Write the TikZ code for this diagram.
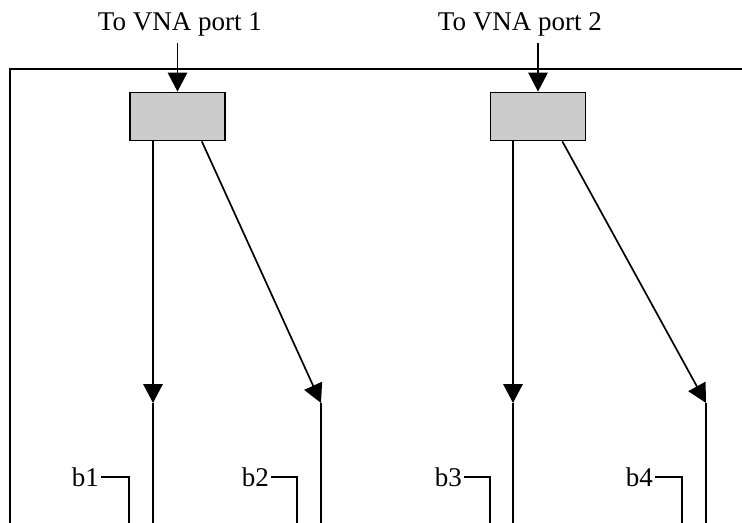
\documentclass[tikz,border=0pt]{standalone}
\usepackage{fontspec}
\setmainfont{Liberation Serif}
\usetikzlibrary{arrows.meta}

\begin{document}
\begin{tikzpicture}[x=0.444pt, y=-0.444pt, >={Triangle[length=8.4pt, width=8.6pt]},
  splitter/.style={draw, fill=black!20, line width=0.8pt, minimum width=42.2pt, minimum height=21.3pt, inner sep=0pt},
  port/.style={font=\fontsize{12}{14}\selectfont, inner sep=2.7pt, anchor=base},
  tap/.style={font=\fontsize{12}{14}\selectfont, inner sep=0.7pt, anchor=east},
  wire/.style={line width=0.75pt}]
  \useasboundingbox (0,0) rectangle (742,523);

  % Enclosure
  \draw[line width=1pt] (742,69) -- (10,69) -- (10,523);

  % Port labels and splitters
  \node[port] (p1) at (180,31) {To VNA port 1};
  \node[port] (p2) at (520,31) {To VNA port 2};
  \node[splitter] (s1) at (177.5,116.5) {};
  \node[splitter] (s2) at (538,116.5) {};
  \draw[wire, ->] (p1.south -| s1.north) -- (s1.north);
  \draw[wire, ->] (p2.south -| s2.north) -- (s2.north);

  % Arrow tips and lower ends
  \coordinate (t1) at (153,403);
  \coordinate (t2) at (321,403);
  \coordinate (t3) at (513,403);
  \coordinate (t4) at (706,403);
  \coordinate (e1) at (153,523);
  \coordinate (e2) at (321,523);
  \coordinate (e3) at (513,523);
  \coordinate (e4) at (706,523);

  % Splitter outputs
  \draw[wire, ->] (s1.south -| t1) -- (t1);
  \draw[wire, ->] ([xshift=-10.7pt]s1.south east) -- (t2);
  \draw[wire, ->] (s2.south -| t3) -- (t3);
  \draw[wire, ->] ([xshift=-10.7pt]s2.south east) -- (t4);
  \draw[wire] (t1) -- (e1);
  \draw[wire] (t2) -- (e2);
  \draw[wire] (t3) -- (e3);
  \draw[wire] (t4) -- (e4);

  % Receiver taps
  \coordinate (c1) at (129,523);
  \coordinate (c2) at (297,523);
  \coordinate (c3) at (490,523);
  \coordinate (c4) at (682,523);
  \node[tap] (b1) at (101,477) {b1};
  \node[tap] (b2) at (271,477) {b2};
  \node[tap] (b3) at (464,477) {b3};
  \node[tap] (b4) at (655,477) {b4};
  \draw[wire] (b1.east) -| (c1);
  \draw[wire] (b2.east) -| (c2);
  \draw[wire] (b3.east) -| (c3);
  \draw[wire] (b4.east) -| (c4);
\end{tikzpicture}
\end{document}
